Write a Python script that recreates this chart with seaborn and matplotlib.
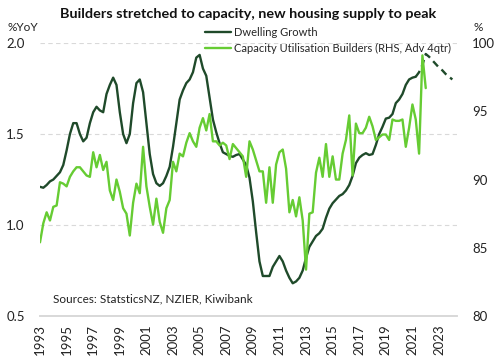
import matplotlib
matplotlib.use('Agg')
import matplotlib.pyplot as plt
import numpy as np
import pandas as pd
import seaborn as sns

# Dwelling growth, %YoY, quarterly from 1993Q1 to 2021Q2
dwelling = [
    1.21, 1.205, 1.22, 1.24,
    1.25, 1.27, 1.29, 1.33,
    1.41, 1.50, 1.56, 1.56,
    1.50, 1.46, 1.48, 1.56,
    1.62, 1.65, 1.63, 1.62,
    1.72, 1.77, 1.81, 1.77,
    1.62, 1.50, 1.45, 1.50,
    1.67, 1.78, 1.80, 1.73,
    1.56, 1.39, 1.28, 1.23,
    1.215, 1.23, 1.27, 1.32,
    1.43, 1.56, 1.69, 1.74,
    1.78, 1.80, 1.84, 1.92,
    1.935, 1.86, 1.82, 1.70,
    1.58, 1.51, 1.45, 1.40,
    1.39, 1.38, 1.375, 1.385,
    1.39, 1.36, 1.33, 1.26,
    1.13, 0.96, 0.80, 0.72,
    0.72, 0.72, 0.77, 0.80,
    0.83, 0.80, 0.75, 0.71,
    0.68, 0.69, 0.71, 0.75,
    0.82, 0.88, 0.91, 0.94,
    0.955, 0.98, 1.04, 1.09,
    1.12, 1.14, 1.16, 1.17,
    1.19, 1.22, 1.27, 1.34,
    1.37, 1.385, 1.395, 1.385,
    1.39, 1.44, 1.50, 1.54,
    1.585, 1.59, 1.61, 1.67,
    1.69, 1.72, 1.77, 1.80,
    1.81, 1.815,
]
# Forecast, 2021Q2 to 2024Q1
dwelling_fc = [1.815, 1.84, 1.88, 1.94, 1.925, 1.905, 1.885, 1.865,
               1.85, 1.83, 1.815, 1.80]

# Capacity utilisation builders (RHS, advanced 4 quarters), 1993Q1 to 2022Q1
capacity = [
    85.4, 86.8, 87.6, 87.0,
    88.0, 88.1, 89.8, 89.7,
    89.5, 90.2, 90.6, 90.9,
    90.9, 90.6, 90.3, 90.2,
    92.0, 90.9, 91.8, 90.7,
    91.3, 89.2, 88.5, 90.0,
    89.1, 87.9, 87.5, 85.9,
    88.3, 89.7, 89.0, 92.4,
    89.5, 88.0, 86.7, 88.6,
    86.9, 86.1, 87.9, 88.5,
    91.3, 90.6, 91.9, 91.7,
    92.7, 93.4, 92.8, 92.4,
    93.8, 94.5, 93.6, 94.8,
    92.8, 92.8, 92.5, 92.7,
    92.5, 91.5, 92.6, 92.3,
    92.0, 91.7, 90.2, 92.8,
    92.2, 91.4, 90.6, 90.6,
    88.3, 90.9, 88.3, 91.1,
    92.0, 92.2, 90.8, 87.6,
    88.5, 87.3, 88.7, 87.0,
    83.4, 87.5, 87.6, 90.5,
    91.6, 90.2, 92.6, 90.2,
    91.7, 90.0, 90.0, 91.9,
    92.9, 94.7, 90.3, 94.1,
    93.4, 93.4, 93.8, 94.6,
    93.9, 92.9, 93.1, 93.3,
    93.3, 92.9, 94.4, 94.3,
    94.3, 94.4, 92.4, 93.8,
    95.5, 94.4, 91.9, 99.1,
    96.7,
]

year_ticks = list(range(1993, 2024, 2))
left_ticks = [0.5, 1.0, 1.5, 2.0]
right_ticks = [80, 85, 90, 95, 100]

start = 1993
dw = pd.DataFrame({'year': start + np.arange(len(dwelling)) * 0.25, 'v': dwelling})
fc = pd.DataFrame({'year': dw['year'].iloc[-1] + np.arange(len(dwelling_fc)) * 0.25, 'v': dwelling_fc})
cap = pd.DataFrame({'year': start + np.arange(len(capacity)) * 0.25, 'v': capacity})

dark = '#1F4A2A'
light = '#66CC33'
grid_c = '#D9D9D9'

sns.set_theme(style="white")
plt.rcParams['font.family'] = ['Lato', 'DejaVu Sans']

fig = plt.figure(figsize=(5, 3.62), dpi=100)
ax = fig.add_axes([0.08, 0.127, 0.834, 0.754])
ax2 = ax.twinx()

sns.lineplot(data=dw, x='year', y='v', ax=ax, color=dark, lw=1.7, label='Dwelling Growth', legend=False)
sns.lineplot(data=fc, x='year', y='v', ax=ax, color=dark, lw=1.7, legend=False,
             linestyle=(0, (3, 2)))
sns.lineplot(data=cap, x='year', y='v', ax=ax2, color=light, lw=1.7,
             label='Capacity Utilisation Builders (RHS, Adv 4qtr)', legend=False)

ax.set_xlim(1993, 2024.35)
ax.set_ylim(0.5, 2.0)
ax2.set_ylim(80, 100)
ax.set_xticks(year_ticks)
ax.set_xticklabels([str(y) for y in year_ticks], rotation=90, fontsize=9.5, color='#222222')
ax.set_yticks(left_ticks)
ax.set_yticklabels([f"{t:.1f}" for t in left_ticks], fontsize=9.5, color='#222222')
ax2.set_yticks(right_ticks)
ax2.set_yticklabels([str(t) for t in right_ticks], fontsize=9.5, color='#222222')
ax.set_xlabel('')
ax.set_ylabel('')
ax2.set_ylabel('')

ax.yaxis.grid(True, linestyle=(0, (4, 3)), color=grid_c, lw=0.8)
ax.set_axisbelow(True)
for a in (ax, ax2):
    for s in ('left', 'right', 'top'):
        a.spines[s].set_visible(False)
    a.spines['bottom'].set_color(grid_c)
ax.tick_params(axis='x', direction='out', length=4, color=grid_c, pad=2)
ax.tick_params(axis='y', length=0, pad=11)
ax2.tick_params(axis='y', length=0, pad=11)

h1, l1 = ax.get_legend_handles_labels()
h2, l2 = ax2.get_legend_handles_labels()
ax2.legend(h1 + h2, l1 + l2, loc='upper left', bbox_to_anchor=(0.41, 0.925),
           bbox_transform=fig.transFigure, frameon=False, fontsize=8,
           handlelength=2.3, handletextpad=0.3, labelspacing=0.45,
           borderpad=0, borderaxespad=0)

fig.text(0.496, 0.962, 'Builders stretched to capacity, new housing supply to peak',
         ha='center', va='center', fontsize=10.4, fontweight='bold', color='#111111')
fig.text(0.016, 0.925, '%YoY', fontsize=8.5, va='center', color='#222222')
fig.text(0.948, 0.925, '%', fontsize=8.5, va='center', color='#222222')
fig.text(0.106, 0.174, 'Sources: StatsticsNZ, NZIER, Kiwibank', fontsize=8.5,
         va='center', color='#222222')

plt.savefig('out.png', dpi=100)
plt.close()
